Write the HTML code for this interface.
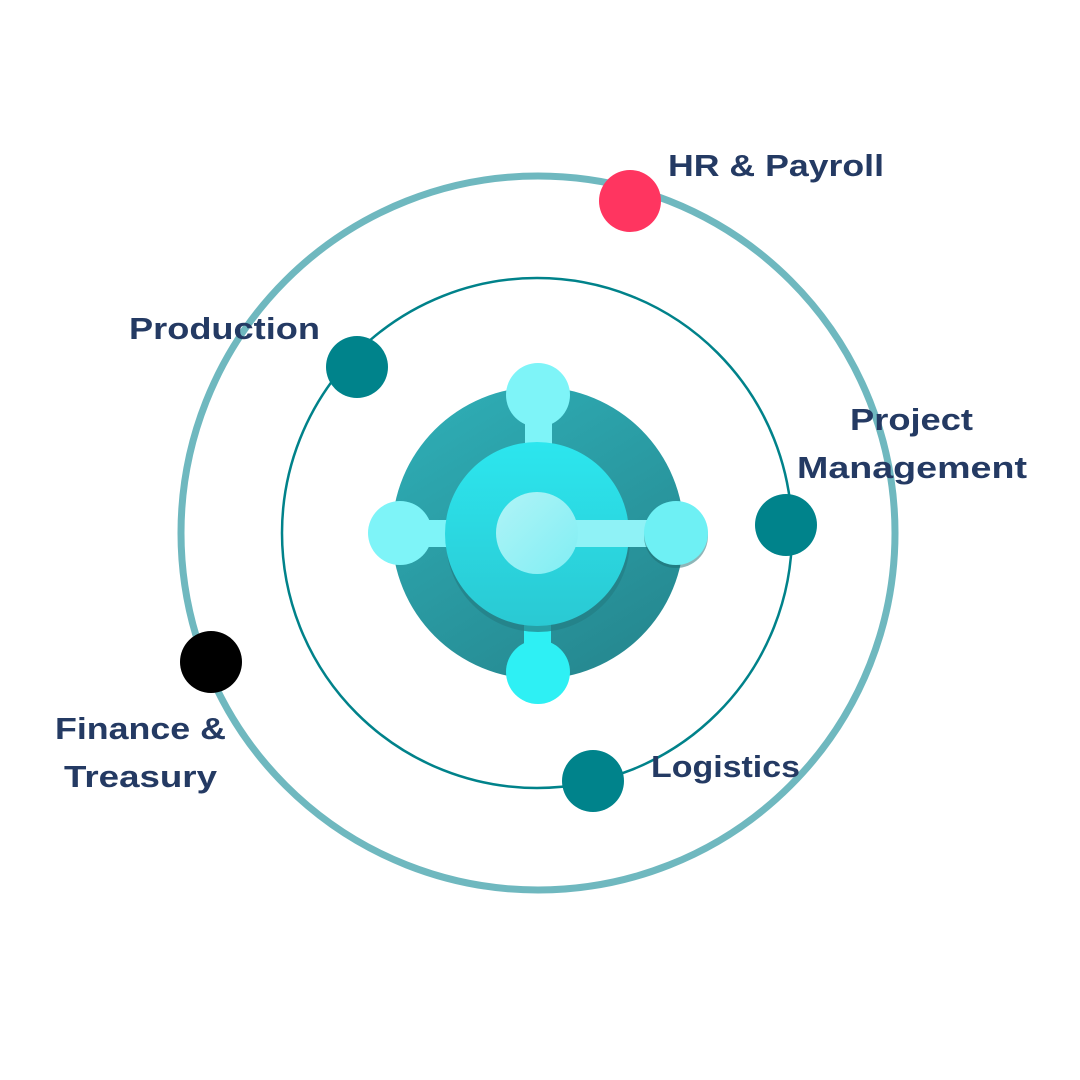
<!DOCTYPE html>
<html><head><style>
html,body{margin:0;padding:0;background:#fff}
svg{display:block}
text{font-family:"Liberation Sans",sans-serif;font-weight:bold;font-size:31px;fill:#243a63}
</style></head><body>
<svg width="1080" height="1080" viewBox="0 0 1080 1080">
<defs>
<linearGradient id="big" x1="0" y1="0" x2="0.6" y2="1"><stop offset="0" stop-color="#2fb0b8"/><stop offset="1" stop-color="#268a92"/></linearGradient>
<linearGradient id="mid" x1="0" y1="0" x2="0" y2="1"><stop offset="0" stop-color="#2ce6ee"/><stop offset="1" stop-color="#2ac9d3"/></linearGradient>
<linearGradient id="inn" x1="0" y1="0" x2="1" y2="1"><stop offset="0" stop-color="#b0f4f6"/><stop offset="1" stop-color="#80eef4"/></linearGradient>
</defs>
<circle cx="538" cy="533" r="357" fill="none" stroke="#6fb8bf" stroke-width="7"/>
<circle cx="537" cy="533" r="255" fill="none" stroke="#00828a" stroke-width="2.5"/>
<circle cx="538" cy="533" r="146" fill="url(#big)"/>
<rect x="525" y="395" width="27" height="60" fill="#7ef4f8"/>
<rect x="400" y="520" width="60" height="27" fill="#7ef4f8"/>
<rect x="524" y="610" width="27" height="60" fill="#2ef0f4"/>
<circle cx="538" cy="540" r="92" fill="#237e85" opacity="0.7"/>
<circle cx="537" cy="534" r="92" fill="url(#mid)"/>
<rect x="537" y="520" width="140" height="27" fill="#8ff2f6"/>
<circle cx="537" cy="533" r="41" fill="url(#inn)"/>
<circle cx="538" cy="395" r="32" fill="#7ef4f8"/>
<circle cx="400" cy="533" r="32" fill="#7ef4f8"/>
<circle cx="676" cy="536" r="32" fill="#1d6b70" opacity="0.5"/>
<circle cx="676" cy="533" r="32" fill="#6ef0f4"/>
<circle cx="538" cy="672" r="32" fill="#2ef0f4"/>
<circle cx="630" cy="201" r="31" fill="#ff3560"/>
<circle cx="357" cy="367" r="31" fill="#00838b"/>
<circle cx="786" cy="525" r="31" fill="#00838b"/>
<circle cx="211" cy="662" r="31" fill="#000"/>
<circle cx="593" cy="781" r="31" fill="#00838b"/>
<text x="668" y="176" textLength="216" lengthAdjust="spacingAndGlyphs">HR &amp; Payroll</text>
<text x="129" y="339" textLength="191" lengthAdjust="spacingAndGlyphs">Production</text>
<text x="850" y="430" textLength="123" lengthAdjust="spacingAndGlyphs">Project</text>
<text x="797" y="478" textLength="230" lengthAdjust="spacingAndGlyphs">Management</text>
<text x="55" y="739" textLength="171" lengthAdjust="spacingAndGlyphs">Finance &amp;</text>
<text x="64" y="787" textLength="153" lengthAdjust="spacingAndGlyphs">Treasury</text>
<text x="651" y="777" textLength="149" lengthAdjust="spacingAndGlyphs">Logistics</text>
</svg>
</body></html>
